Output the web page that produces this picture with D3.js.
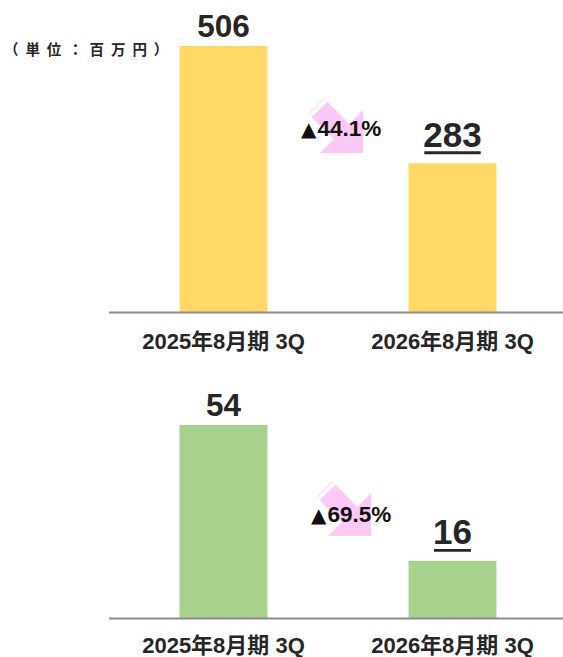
<!DOCTYPE html>
<html><head><meta charset="utf-8">
<script src="https://cdn.jsdelivr.net/npm/d3@7"></script>
<style>
html,body{margin:0;padding:0;background:#fff;}
svg{display:block;font-family:"Liberation Sans",Arial,"Noto Sans CJK JP",sans-serif;}
</style></head>
<body>
<svg id="chart" width="563" height="657"></svg>
<script>
const categories = ["2025年8月期 3Q", "2026年8月期 3Q"];
const salesValues = [506, 283];
const profitValues = [54, 16];
const salesChange = "44.1%";
const profitChange = "69.5%";
const unitLabel = "（単位：百万円）";

const svg = d3.select("#chart");
const textColor = "#262626";

svg.append("text")
  .attr("x", 4).attr("y", 54.5)
  .attr("font-size", 14.5).attr("font-weight", "bold")
  .attr("letter-spacing", 6.9)
  .attr("fill", textColor)
  .attr("font-family", "'Noto Sans CJK JP',sans-serif")
  .text(unitLabel);

function drawPanel(cfg) {
  const x = d3.scaleBand().domain(categories).range([109, 567])
    .paddingInner(0.616).paddingOuter(0.308);
  const y = d3.scaleLinear().domain([0, d3.max(cfg.values)]).range([cfg.base, cfg.top]);
  const g = svg.append("g");
  const data = categories.map((c, i) => ({c, v: cfg.values[i], i}));

  g.selectAll("rect.bar").data(data).join("rect")
    .attr("class", "bar")
    .attr("x", d => x(d.c)).attr("width", x.bandwidth())
    .attr("y", d => y(d.v)).attr("height", d => y(0) - y(d.v))
    .attr("fill", cfg.color);

  // axis line
  g.append("line").attr("x1", 109).attr("x2", 563)
    .attr("y1", y(0) + 0.5).attr("y2", y(0) + 0.5)
    .attr("stroke", "#8c8c8c").attr("stroke-width", 2.2);

  // category labels
  g.selectAll("text.cat").data(data).join("text")
    .attr("class", "cat")
    .attr("x", d => x(d.c) + x.bandwidth() / 2)
    .attr("y", y(0) + cfg.catOffset)
    .attr("text-anchor", "middle")
    .attr("font-size", 22).attr("font-weight", "bold")
    .attr("fill", textColor)
    .text(d => d.c);

  // value labels
  const vl = g.selectAll("text.val").data(data).join("text")
    .attr("class", "val")
    .attr("x", d => x(d.c) + x.bandwidth() / 2)
    .attr("y", d => y(d.v) - (d.i === 0 ? 9.5 : 16.5))
    .attr("text-anchor", "middle")
    .attr("font-size", d => d.i === 0 ? 31.5 : 35)
    .attr("font-weight", "bold")
    .attr("fill", textColor)
    .text(d => d.v);
  vl.filter(d => d.i === 1).each(function(d) {
    const bb = this.getBBox();
    g.append("line")
      .attr("x1", bb.x + 1).attr("x2", bb.x + bb.width - 1)
      .attr("y1", y(d.v) - 10.5).attr("y2", y(d.v) - 10.5)
      .attr("stroke", textColor).attr("stroke-width", 2.8);
  });

  // arrow
  const tx = cfg.tip[0], ty = cfg.tip[1];
  const L = 43, hw = 7.8, sl = 22;
  const mx = -L / 2, my = -L / 2;
  const b1 = [mx + hw, my - hw], b2 = [mx - hw, my + hw];
  const pts = [[0, 0], [0, -L], b1, [b1[0] - sl, b1[1] - sl], [b2[0] - sl, b2[1] - sl], b2, [-L, 0]];
  const ag = g.append("g").attr("transform", `translate(${tx},${ty})`);
  ag.append("path")
    .attr("d", d3.line()(pts) + "Z")
    .attr("fill", "#fcc8f6");
  ag.append("line")
    .attr("x1", b1[0] - sl - 3).attr("y1", b1[1] - sl - 3)
    .attr("x2", b2[0] - sl - 3).attr("y2", b2[1] - sl - 3)
    .attr("stroke", "#fbd9f6").attr("stroke-width", 1.2);

  const t = g.append("text")
    .attr("x", cfg.changePos[0]).attr("y", cfg.changePos[1])
    .attr("font-size", 22.5).attr("font-weight", "bold")
    .attr("fill", "#111");
  t.append("tspan").attr("font-family", "'DejaVu Sans',sans-serif")
    .attr("font-size", 20).attr("font-weight", "normal").text("▲");
  t.append("tspan").attr("dx", 1).text(cfg.change);
}

drawPanel({values: salesValues, base: 312, top: 46, color: "#FFD966", catOffset: 37,
  tip: [363, 153], change: salesChange, changePos: [301, 136]});
drawPanel({values: profitValues, base: 618, top: 425, color: "#A9D18E", catOffset: 34.5,
  tip: [371, 536], change: profitChange, changePos: [311, 522]});
</script>
</body></html>
